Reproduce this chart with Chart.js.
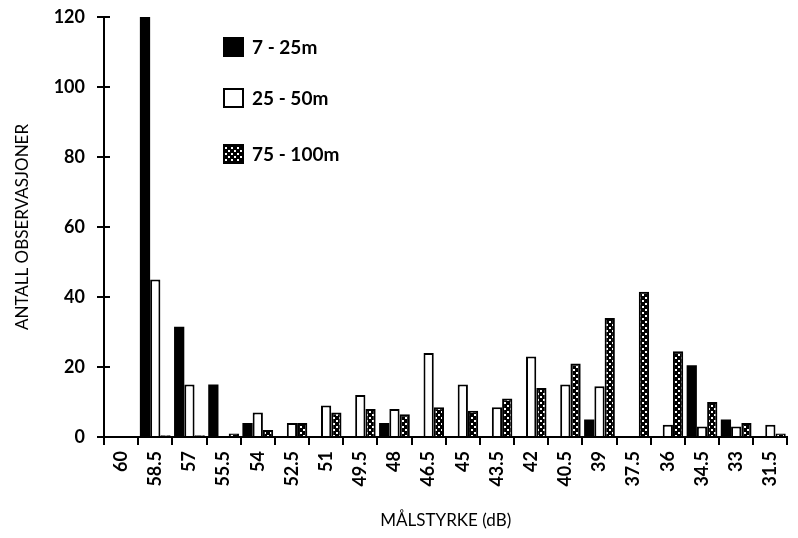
<!DOCTYPE html>
<html>
<head>
<meta charset="utf-8">
<script src="https://cdn.jsdelivr.net/npm/chart.js@4"></script>
<style>
  html, body { margin: 0; padding: 0; background: #fff; }
  #wrap { width: 798px; height: 538px; }
</style>
</head>
<body>
<div id="wrap"><canvas id="dist_chart" width="798" height="538"></canvas></div>
<script>
// target strength classes (dB), strongest first
const categories = ["60", "58.5", "57", "55.5", "54", "52.5", "51", "49.5", "48", "46.5",
  "45", "43.5", "42", "40.5", "39", "37.5", "36", "34.5", "33", "31.5"];

// number of observations per depth layer
const depth7to25 = [0, 120, 31.5, 15, 4, 0, 0, 0, 4, 0, 0, 0, 0, 0, 5, 0, 0, 20.5, 5, 0];
const depth25to50 = [0, 45, 15, 0, 7, 4, 9, 12, 8, 24, 15, 8.5, 23, 15, 14.5, 0, 3.5, 3, 3, 3.5];
const depth75to100 = [0, 0.5, 0.5, 1, 2, 4, 7, 8, 6.5, 8.5, 7.5, 11, 14, 21, 34, 41.5, 24.5, 10, 4, 1];

const yTicks = [0, 20, 40, 60, 80, 100, 120];

const FONT = "Lato, 'Open Sans', sans-serif";
const WEIGHT = "bold";

// black fill with staggered white dots
function dotPattern() {
  const c = document.createElement("canvas");
  c.width = 6;
  c.height = 6;
  const g = c.getContext("2d");
  g.fillStyle = "#000";
  g.fillRect(0, 0, 6, 6);
  g.fillStyle = "#fff";
  g.fillRect(0, 0, 2, 2);
  g.fillRect(3, 3, 2, 2);
  return g.createPattern(c, "repeat");
}

// legend drawn inside the plot, top left
const boxLegend = {
  id: "boxLegend",
  afterDraw(chart) {
    const ctx = chart.ctx;
    const rows = [47, 98, 154];
    ctx.save();
    ctx.font = WEIGHT + " 19px " + FONT;
    ctx.textBaseline = "middle";
    chart.data.datasets.forEach((ds, i) => {
      const y = rows[i];
      ctx.fillStyle = ds.backgroundColor;
      ctx.fillRect(223, y - 10, 21, 20);
      ctx.strokeStyle = "#000";
      ctx.lineWidth = 2;
      ctx.strokeRect(224, y - 9, 19, 18);
      ctx.fillStyle = "#000";
      ctx.fillText(ds.label, 252, y + 1);
    });
    ctx.restore();
  }
};

// y ticks cross the axis: add the inner half
const innerTicks = {
  id: "innerTicks",
  afterDraw(chart) {
    const y = chart.scales.y;
    const ctx = chart.ctx;
    ctx.save();
    ctx.strokeStyle = "#000";
    ctx.lineWidth = 2;
    y.ticks.forEach(t => {
      const py = y.getPixelForValue(t.value);
      ctx.beginPath();
      ctx.moveTo(y.right, py);
      ctx.lineTo(y.right + 6, py);
      ctx.stroke();
    });
    ctx.restore();
  }
};

const ctx = document.getElementById("dist_chart");

new Chart(ctx, {
  type: "bar",
  data: {
    labels: categories,
    datasets: [
      { label: "7 - 25m", data: depth7to25, backgroundColor: "#000", borderWidth: 0 },
      { label: "25 - 50m", data: depth25to50, backgroundColor: "#fff" },
      { label: "75 - 100m", data: depth75to100, backgroundColor: dotPattern() },
    ],
  },
  options: {
    responsive: false,
    animation: false,
    devicePixelRatio: 1,
    layout: { padding: { top: 17, right: 2, left: 0, bottom: 0 } },
    plugins: { legend: { display: false }, tooltip: { enabled: false } },
    datasets: {
      bar: {
        categoryPercentage: 0.9,
        barPercentage: 1,
        borderWidth: 2,
        borderColor: "#000",
        borderSkipped: "bottom",
      },
    },
    scales: {
      x: {
        offset: true,
        grid: { offset: true, drawOnChartArea: false, tickLength: 8, color: "#000", lineWidth: 2 },
        border: { color: "#000", width: 2 },
        ticks: {
          autoSkip: false,
          minRotation: 90,
          maxRotation: 90,
          padding: 6,
          color: "#000",
          font: { family: FONT, size: 18, weight: WEIGHT },
        },
        title: {
          display: true,
          text: "MÅLSTYRKE (dB)",
          color: "#000",
          font: { family: FONT, size: 17 },
          padding: { top: 4, bottom: 7 },
        },
        afterFit(scale) { scale.height = 101; },
      },
      y: {
        min: 0,
        max: 120,
        afterBuildTicks(scale) { scale.ticks = yTicks.map(v => ({ value: v })); },
        grid: { drawOnChartArea: false, tickLength: 7, color: "#000", lineWidth: 2 },
        border: { color: "#000", width: 2 },
        ticks: { padding: 12, color: "#000", font: { family: FONT, size: 18, weight: WEIGHT } },
        title: {
          display: true,
          text: "ANTALL OBSERVASJONER",
          color: "#000",
          font: { family: FONT, size: 17 },
          padding: { top: 12, bottom: 0 },
        },
        afterFit(scale) {
          scale.width = 104;
          scale.paddingTop = 0;
        },
      },
    },
  },
  plugins: [boxLegend, innerTicks],
});
</script>
</body>
</html>
